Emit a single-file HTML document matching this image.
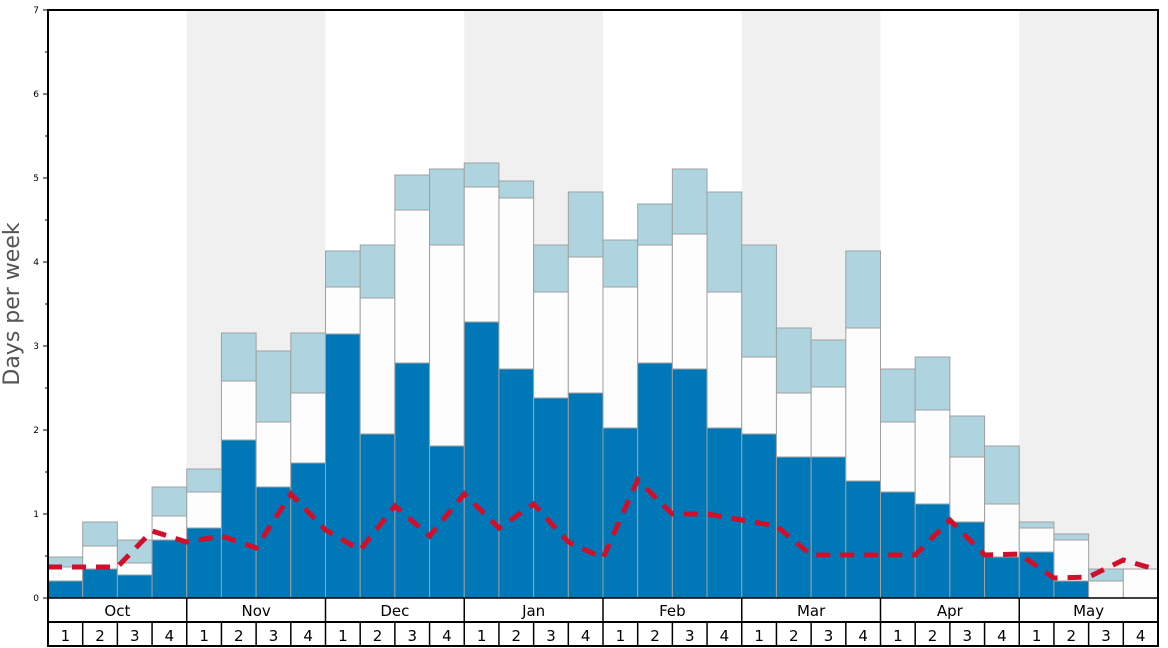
<!DOCTYPE html>
<html><head><meta charset="utf-8"><style>
html,body{margin:0;padding:0;background:#fff;}
svg{display:block;font-family:"DejaVu Sans","Liberation Sans",sans-serif;}
</style></head><body>
<svg id="c" width="1168" height="648" xmlns="http://www.w3.org/2000/svg"></svg>
<script>
const L=48,R=1158,T=10,B=598,W=(R-L)/32;
const bars=[[581,567,557],[569,546,522],[575,563,540],[540,516,487],
[528,492,469],[440,381,333],[487,422,351],[463,393,333],
[334,287,251],[434,298,245],[363,210,175],[446,245,169],
[322,187,163],[369,198,181],[398,292,245],[393,257,192],
[428,287,240],[363,245,204],[369,234,169],[428,292,192],
[434,357,245],[457,393,328],[457,387,340],[481,328,251],
[492,422,369],[504,410,357],[522,457,416],[557,504,446],
[552,528,522],[581,540,534],[598,581,569],[598,569,569]];
const red=[567,567,567,531,542,536,548,494,530,550,506,536,494,528,504,542,558,480,514,514,520,526,555,555,555,555,520,555,554,578,577,560,570];
let s='';
for(let m=1;m<8;m+=2){s+=`<rect x="${L+m*4*W}" y="${T}" width="${4*W}" height="${B-T}" fill="#f0f0f0"/>`;}
bars.forEach((b,i)=>{const x=L+i*W;
 if(b[2]<b[1])s+=`<rect x="${x}" y="${b[2]}" width="${W}" height="${b[1]-b[2]}" fill="#aed4e0" stroke="#a0a0a0" stroke-width="1"/>`;
 if(b[1]<b[0])s+=`<rect x="${x}" y="${b[1]}" width="${W}" height="${b[0]-b[1]}" fill="#fdfdfd" stroke="#a0a0a0" stroke-width="1"/>`;
 if(b[0]<B)s+=`<rect x="${x}" y="${b[0]}" width="${W}" height="${B-b[0]}" fill="#0077b6" stroke="#a0a0a0" stroke-width="1"/>`;
});
s+=`<polyline fill="none" stroke="#d0102a" stroke-width="5" stroke-dasharray="14,10" points="${red.map((y,i)=>(L+i*W)+','+y).join(' ')}"/>`;
// axes
s+=`<rect x="${L}" y="${T}" width="${R-L}" height="${646-T}" fill="none" stroke="#000" stroke-width="2"/>`;
s+=`<line x1="${L}" y1="${B}" x2="${R}" y2="${B}" stroke="#000" stroke-width="1.5"/>`;
s+=`<line x1="${L}" y1="622" x2="${R}" y2="622" stroke="#000" stroke-width="2"/>`;
for(let v=0;v<=7;v++){const y=B-v*84;s+=`<line x1="${L-5}" y1="${y}" x2="${L}" y2="${y}" stroke="#000"/><text x="${L-9}" y="${y+3}" font-size="9" text-anchor="end">${v}</text>`;
 if(v<7)s+=`<line x1="${L-3}" y1="${y-42}" x2="${L}" y2="${y-42}" stroke="#000"/>`;}
const months=["Oct","Nov","Dec","Jan","Feb","Mar","Apr","May"];
months.forEach((m,i)=>{const x=L+i*4*W;if(i>0)s+=`<line x1="${x}" y1="${B}" x2="${x}" y2="646" stroke="#000" stroke-width="1.5"/>`;
 s+=`<text x="${x+2*W}" y="616" font-size="15" text-anchor="middle">${m}</text>`;});
for(let i=0;i<32;i++){const x=L+i*W;if(i%4)s+=`<line x1="${x}" y1="622" x2="${x}" y2="646" stroke="#000" stroke-width="1.5"/>`;
 s+=`<text x="${x+W/2}" y="641" font-size="15" text-anchor="middle">${i%4+1}</text>`;}
s+=`<text transform="translate(19,304) rotate(-90)" font-size="22" fill="#555" text-anchor="middle">Days per week</text>`;
document.getElementById('c').innerHTML=s;
</script>
</body></html>
